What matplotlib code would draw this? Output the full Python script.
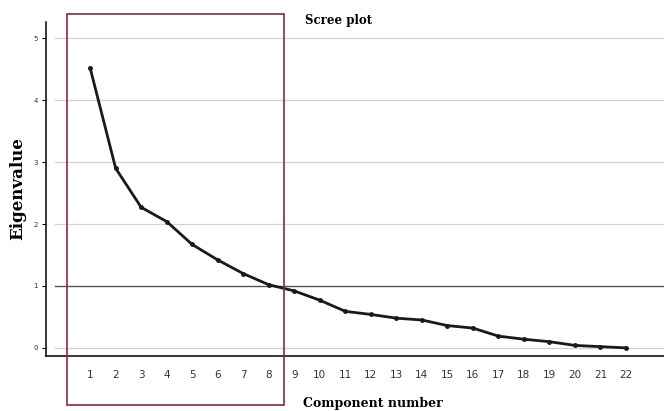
import matplotlib.pyplot as plt
from matplotlib.patches import Rectangle

components = list(range(1, 23))
eigenvalues = [4.52, 2.90, 2.27, 2.04, 1.67, 1.42, 1.20, 1.02, 0.92, 0.77,
               0.59, 0.54, 0.48, 0.45, 0.36, 0.32, 0.19, 0.14, 0.10, 0.04,
               0.02, 0.00]
y_ticks = [0, 1, 2, 3, 4, 5]

fig = plt.figure(figsize=(6.64, 4.11), dpi=100)
ax = fig.add_axes([0.0693, 0.134, 0.931, 0.812])

for y in y_ticks:
    if y == 1:
        continue
    ax.axhline(y, xmin=0.015, color="#d2d2d2", linewidth=0.9, zorder=1)
ax.axhline(1, xmin=0.015, color="#555555", linewidth=1.0, zorder=1)

ax.plot(components, eigenvalues, color="#1a1a1a", linewidth=2.0,
        marker="o", markersize=2.5, zorder=3)

ax.set_xlim(-0.73, 23.5)
ax.set_ylim(-0.13, 5.26)
ax.set_xticks(components)
ax.set_xticklabels([str(c) for c in components], fontsize=7.5, color="#333333")
ax.tick_params(axis="x", length=0, pad=10)
ax.set_yticks(y_ticks)
ax.set_yticklabels([str(y) for y in y_ticks], fontsize=5, color="#333333")
ax.tick_params(axis="y", length=3, width=0.8, pad=3)

for side in ("top", "right"):
    ax.spines[side].set_visible(False)
ax.spines["left"].set_linewidth(1.1)
ax.spines["bottom"].set_linewidth(1.1)

fig.text(0.027, 0.54, "Eigenvalue", fontsize=12, fontweight="bold",
         family="DejaVu Serif", rotation=90, ha="center", va="center")
fig.text(0.456, 0.003, "Component number", fontsize=9, fontweight="bold",
         family="DejaVu Serif", ha="left", va="bottom")
fig.text(0.459, 0.951, "Scree plot", fontsize=8.5, fontweight="bold",
         family="DejaVu Serif", ha="left", va="center")

fig.add_artist(Rectangle((0.1009, 0.0146), 0.3268, 0.951, transform=fig.transFigure,
                         fill=False, edgecolor="#8b2a3a", linewidth=1.2, zorder=5))

fig.savefig("out.png", dpi=100)
